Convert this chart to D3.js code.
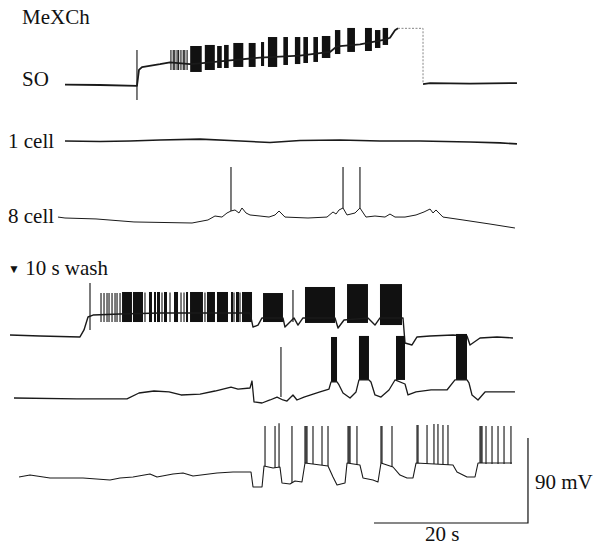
<!DOCTYPE html>
<html>
<head>
<meta charset="utf-8">
<script src="https://cdn.jsdelivr.net/npm/d3@7"></script>
<style>
  body { margin: 0; background: #fff; }
  text { font-family: "Liberation Serif", "DejaVu Serif", serif; fill: #111; }
</style>
</head>
<body>
<div id="visualize"></div>
<script>
// time in s, potential in mV above each trace's starting rest level
// line points: [t, mV]; spikes: [t, foot mV, peak mV]; bursts: [t0, t1, top mV, bottom mV]

var labels = ["MeXCh", "SO", "1 cell", "8 cell", "10 s wash", "90 mV", "20 s"];

// SO
var soLine = [[7.14,0.5],[11.69,0],[16.49,-1],[16.75,16],[17.14,19],[19.48,22],[20.78,24],[23.38,22],[24.68,23],
  [28.57,26],[32.47,29],[37.66,31],[41.56,35],[42.47,41],[45.45,43],[48.7,48],[49.35,50],[50.0,58],[50.39,60]];
var soClip = [[50.39,60],[53.64,60],[53.64,2]];
var soAfter = [[53.64,1],[54.55,2],[59.74,1.5],[65.84,2]];
var soArtifact = [[16.49,-16,37]];
var soSpikes = [[20.9,16,37],[21.2,16,37],[21.4,16,37],[21.7,16,37],[21.9,16,37],[22.2,16,37],[22.5,16,37],[22.7,16,37],[23.0,16,37]];
var soBursts = [[23.4,24.9,41.3,13.8],[25.3,26.6,42.4,15.9],[26.9,27.5,41.3,18],[27.8,28.4,42.4,18],[29.0,30.3,44.5,19.1],
  [31.0,31.9,44.5,19.1],[32.6,33.0,45.5,20.1],[33.5,34.7,50.8,19.1],[35.5,36.1,50.8,21.2],[37.0,37.7,50.8,22.2],
  [38.1,38.7,50.8,23.3],[39.4,40.0,50.8,24.4],[40.5,41.6,51.9,28.6],[42.2,42.9,58.2,32.8],[43.8,44.8,60.4,35],
  [46.1,47.0,60.4,36],[47.4,48.1,58.2,39.2],[48.4,49.1,60.4,42.4]];

// 1 cell
var oneLine = [[7.14,0],[11.69,-0.5],[15.58,0],[19.48,1],[24.68,2],[28.57,0.5],[33.77,-1.6],[37.66,0.5],
  [42.86,1],[48.05,0],[53.25,0],[59.74,-1],[63.64,-2],[65.84,-3]];

// 8 cell
var eightLine = [[6.23,1],[7.14,0],[11.17,-1],[16.1,-4.2],[23.64,-5.3],[25.71,-2.1],[26.62,2.1],[27.53,1],[28.18,5.3],
  [28.7,7.4],[29.22,8.5],[29.74,5.3],[30.13,10.6],[30.65,5.3],[31.17,3.2],[32.47,2.1],[33.64,1],[34.42,3.2],[34.94,7.4],
  [35.71,1],[38.7,0],[41.17,1],[41.95,6.4],[42.34,4.2],[42.73,8.5],[43.25,10.6],[43.77,3.2],[44.81,5.3],[45.45,10.6],
  [46.23,1],[47.4,2.1],[48.7,1],[49.35,4.2],[50.0,1],[51.3,1],[52.73,3.2],[53.77,6.4],[54.55,9.5],[54.94,5.3],
  [55.32,8.5],[56.23,1],[58.83,-2.1],[62.34,-6.4],[65.58,-10.6]];
var eightSpikes = [[28.7,7.4,54],[43.25,10.6,54],[45.45,10.6,54]];

// wash, first trace
var washALine = [[0,1],[3.9,0],[9.09,-1],[9.61,6.4],[10.13,20.1],[10.78,22.2],[14.29,23.3],[19.48,24.4],[24.68,24.4],
  [31.17,24.4],[31.56,9.5],[32.21,11.6],[32.73,19.1],[35.45,19.1],[35.71,9.5],[36.36,14.8],[36.88,19.1],[37.4,11.6],
  [38.05,19.1],[42.21,19.1],[42.6,8.5],[43.38,16.9],[46.49,19.1],[47.4,11.6],[48.05,19.1],[51.04,19.1],[51.3,-7.4],
  [52.21,-9.5],[52.86,-1],[54.55,0],[57.53,1],[59.35,0],[59.74,-9.5],[61.04,-2.1],[63.25,-1],[65.32,-2.1]];
var washASpikes = [[10.39,6.4,56],[11.82,14.8,45.5],[12.21,14.8,45.5],[12.6,14.8,45.5],[12.86,14.8,45.5],[13.25,14.8,45.5],
  [13.64,14.8,45.5],[13.9,14.8,45.5],[14.29,14.8,45.5],[17.53,14.8,46],[19.74,14.8,46],[20.78,14.8,46],[22.21,14.8,46],
  [22.6,14.8,46],[25.32,14.8,46],[29.09,14.8,46],[29.87,14.8,46],[36.75,14.8,48.7]];
var washABursts = [[14.55,15.84,46.6,14.8],[15.97,17.27,46.6,14.8],[18.05,18.44,46.6,14.8],[18.7,18.96,46.6,14.8],
  [19.09,19.48,46.6,14.8],[20.0,20.39,46.6,14.8],[21.3,21.82,46.6,14.8],[22.86,23.12,46.6,14.8],[23.38,25.06,46.6,14.8],
  [25.58,26.62,46.6,14.8],[26.88,28.31,46.6,14.8],[28.7,28.96,46.6,14.8],[29.35,29.74,46.6,14.8],[30.13,31.43,46.6,14.8],
  [32.86,35.45,45.5,14.8],[38.31,42.21,51.9,13.8],[43.77,46.49,55,13.8],[48.05,50.91,55,11.6]];

// wash, second trace
var washBLine = [[0.52,0],[8.7,-1],[15.19,-1],[16.75,5.3],[18.7,7.4],[20.65,6.4],[22.21,3.2],[24.68,4.2],[26.62,7.4],
  [28.7,11.6],[29.61,9.5],[31.17,10.6],[31.43,18],[31.69,-4.2],[32.73,-5.3],[33.77,-2.1],[34.68,1],[35.45,-2.1],
  [35.97,-3.2],[36.75,3.2],[37.27,-2.1],[38.18,1],[40.26,6.4],[41.43,9.5],[41.69,17],[42.47,17],[42.73,13.8],[43.25,5.3],
  [44.16,0],[44.94,6.4],[45.32,19.1],[46.62,19.1],[46.88,17],[47.4,3.2],[48.18,1],[49.22,8.5],[50.0,19.1],[51.3,14.8],
  [51.69,3.2],[52.73,6.4],[54.68,8.5],[56.75,8.5],[57.79,19.1],[59.35,19.1],[59.61,15.9],[60.0,3.2],[60.78,-2.1],
  [61.69,6.4],[63.64,6.4],[65.58,6.4]];
var washBSpikes = [[35.19,1,54]];
var washBBursts = [[41.69,42.47,64.6,17],[45.32,46.62,65.7,19.1],[50.13,51.3,65.7,19.1],[57.92,59.35,67.8,19.1]];

// wash, third trace
var washCLine = [[1.17,0],[2.6,2.1],[5.19,-1],[9.48,-1],[12.99,-3.2],[14.29,-1],[15.97,0],[18.18,3.2],[19.09,0],
  [21.17,3.2],[22.47,4.2],[23.77,1],[26.88,4.2],[28.96,5.3],[31.3,5.3],[31.56,-10.6],[32.73,-10.6],[32.99,11.6],
  [34.16,9.5],[35.06,10.6],[35.32,-6.4],[36.36,-7.4],[37.01,-4.2],[37.92,-5.3],[38.31,14.8],[41.3,11.6],[41.95,0],
  [42.47,-8.5],[43.51,-6.4],[43.77,14.8],[45.45,12.7],[45.84,-1],[47.14,-3.2],[47.79,-5.3],[48.18,14.8],[49.74,10.6],
  [50.65,2.1],[51.56,-1],[52.34,-1],[52.73,14.8],[57.53,12.7],[58.05,5.3],[59.35,0],[60.39,0],[60.78,14.8],[65.19,14.8]];
var washCSpikes = [[33.12,11.6,54],[34.42,9.5,54],[34.94,10.6,57],[36.62,-6.4,54],[38.31,14.8,54],[38.44,14.8,54],
  [38.57,14.8,54],[39.35,13.8,54],[40.52,12.7,54],[41.3,11.6,54],[43.9,14.8,54],[44.03,14.8,54],[44.16,14.8,54],
  [45.06,12.7,54],[48.18,14.8,54],[48.31,14.8,54],[49.61,10.6,54],[52.86,14.8,55],[52.99,14.8,55],[54.16,13.8,55],
  [55.06,13.8,56],[55.58,13.8,56],[56.23,13.8,55],[56.88,12.7,55],[61.04,14.8,54],[61.17,14.8,54],[61.3,14.8,54],
  [61.82,13.8,54],[62.6,13.8,54],[63.38,13.8,54],[64.16,13.8,54],[65.06,13.8,54]];

// scale bars
var barSeconds = 20;
var barMillivolts = 90;

var width = 603, height = 545;

var x = d3.scaleLinear().domain([0, 67]).range([10, 525.9]);

function yAt(y0) {
  return d3.scaleLinear().domain([0, 90]).range([y0, y0 - 85]);
}

var traces = [
  { line: soLine, extra: soAfter, spikes: soSpikes.concat(soArtifact), bursts: soBursts, y0: 85, w: 1.8 },
  { line: oneLine, spikes: [], bursts: [], y0: 141, w: 1.6 },
  { line: eightLine, spikes: eightSpikes, bursts: [], y0: 218, w: 1 },
  { line: washALine, spikes: washASpikes, bursts: washABursts, y0: 336, w: 1.4 },
  { line: washBLine, spikes: washBSpikes, bursts: washBBursts, y0: 398, w: 1.3 },
  { line: washCLine, spikes: washCSpikes, bursts: [], y0: 477, w: 1.1 }
];

var svg = d3.select("#visualize").append("svg")
    .attr("width", width)
    .attr("height", height);

traces.forEach(function(tr) {
  var y = yAt(tr.y0);
  var line = d3.line()
      .x(function(d) { return x(d[0]); })
      .y(function(d) { return y(d[1]); });

  var g = svg.append("g");

  g.selectAll(".burst")
      .data(tr.bursts)
    .enter().append("rect")
      .attr("x", function(d) { return x(d[0]); })
      .attr("y", function(d) { return y(d[2]); })
      .attr("width", function(d) { return x(d[1]) - x(d[0]); })
      .attr("height", function(d) { return y(d[3]) - y(d[2]); })
      .style("fill", "#111");

  g.selectAll(".spike")
      .data(tr.spikes)
    .enter().append("line")
      .attr("x1", function(d) { return x(d[0]); })
      .attr("x2", function(d) { return x(d[0]); })
      .attr("y1", function(d) { return y(d[1]); })
      .attr("y2", function(d) { return y(d[2]); })
      .style("stroke", "#111")
      .style("stroke-width", 1.1);

  [tr.line, tr.extra].forEach(function(pts) {
    if (!pts) return;
    g.append("path")
        .attr("d", line(pts))
        .style("fill", "none")
        .style("stroke", "#1a1a1a")
        .style("stroke-width", tr.w)
        .style("stroke-linejoin", "round");
  });
});

// clipped part of SO trace (pen limit)
var ySO = yAt(85);
svg.append("path")
    .attr("d", d3.line().x(function(d) { return x(d[0]); }).y(function(d) { return ySO(d[1]); })(soClip))
    .style("fill", "none")
    .style("stroke", "#777")
    .style("stroke-width", 0.9)
    .style("stroke-dasharray", "2,1.5");

// scale bars
var yBar = yAt(477);
var barEnd = 67.27, barLow = -48.7;
svg.append("path")
    .attr("d", "M" + x(barEnd - barSeconds) + "," + yBar(barLow) +
               "H" + x(barEnd) +
               "V" + yBar(barLow + barMillivolts))
    .style("fill", "none")
    .style("stroke", "#111")
    .style("stroke-width", 1.2);

// labels
var fs = 21;
svg.append("text").attr("x", 22).attr("y", 24).style("font-size", fs + "px").text(labels[0]);
svg.append("text").attr("x", 22).attr("y", 86).style("font-size", fs + "px").text(labels[1]);
svg.append("text").attr("x", 8).attr("y", 148).style("font-size", fs + "px").text(labels[2]);
svg.append("text").attr("x", 8).attr("y", 223).style("font-size", fs + "px").text(labels[3]);

var wash = svg.append("text").attr("x", 8).attr("y", 275).style("font-size", fs + "px");
wash.append("tspan").style("font-size", "12px").attr("dy", -2).text("\u25BC");
wash.append("tspan").attr("dy", 2).text(" " + labels[4]);

svg.append("text").attr("x", 535).attr("y", 489).style("font-size", fs + "px").text(labels[5]);
svg.append("text").attr("x", 425).attr("y", 541).style("font-size", fs + "px").text(labels[6]);
</script>
</body>
</html>
